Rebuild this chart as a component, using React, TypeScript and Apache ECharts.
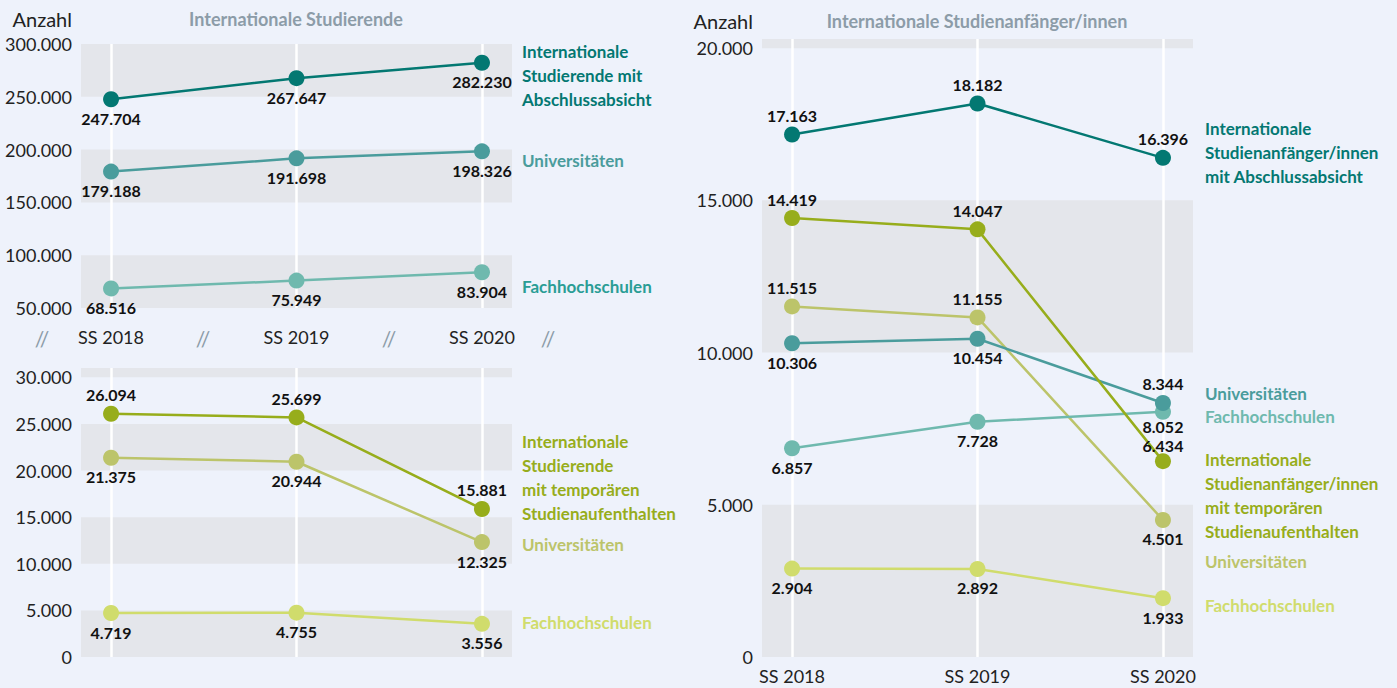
import React, { useEffect, useRef } from "react";
import * as echarts from "echarts";

const categories = ["SS 2018", "SS 2019", "SS 2020"];

// Top-left: Internationale Studierende (mit Abschlussabsicht)
const studAbsTotal = [247704, 267647, 282230];
const studAbsUni = [179188, 191698, 198326];
const studAbsFh = [68516, 75949, 83904];

// Bottom-left: Internationale Studierende mit temporären Studienaufenthalten
const studTempTotal = [26094, 25699, 15881];
const studTempUni = [21375, 20944, 12325];
const studTempFh = [4719, 4755, 3556];

// Right: Internationale Studienanfänger/innen
const newAbsTotal = [17163, 18182, 16396];
const newTempTotal = [14419, 14047, 6434];
const newTempUni = [11515, 11155, 4501];
const newAbsUni = [10306, 10454, 8344];
const newAbsFh = [6857, 7728, 8052];
const newTempFh = [2904, 2892, 1933];

// label positions / distances (style)
const B = "bottom";
const T = "top";

const FONT = "Lato, 'Noto Sans', sans-serif";
const BG = "#eef2fb";
const BAND = "#e4e6eb";
const C_DARK = "#037872";
const C_UNI = "#4a9c9c";
const C_FH = "#6fb9ae";
const C_OLIVE = "#97ad1b";
const C_OLIVE_UNI = "#bcc46a";
const C_OLIVE_FH = "#d0dc6c";

const fmt = (n: number) =>
  String(Math.round(n)).replace(/\B(?=(\d{3})+(?!\d))/g, ".");

function line(
  name: string,
  values: number[],
  positions: string[],
  color: string,
  g: number,
  distances: number[] = [3, 3, 3]
) {
  return {
    type: "line",
    name,
    xAxisIndex: g,
    yAxisIndex: g,
    z: 5,
    silent: true,
    symbol: "circle",
    symbolSize: 16,
    lineStyle: { color, width: 2.5 },
    itemStyle: { color },
    data: values.map((v, i) => ({
      value: [i, v],
      label: { position: positions[i], distance: distances[i] },
    })),
    label: {
      show: true,
      distance: 3,
      fontFamily: FONT,
      fontWeight: "bold",
      fontSize: 16,
      color: "#111",
      formatter: (p: any) => fmt(p.value[1]),
    },
  };
}

function guides(g: number) {
  return {
    type: "line",
    xAxisIndex: g,
    yAxisIndex: g,
    z: 1,
    silent: true,
    data: [],
    markLine: {
      z: 1,
      silent: true,
      symbol: "none",
      label: { show: false },
      lineStyle: { color: "#ffffff", width: 2.5, type: "solid" },
      data: categories.map((_, i) => ({ xAxis: i })),
    },
  };
}

function xAxis(g: number, showLabels: boolean, margin: number) {
  return {
    gridIndex: g,
    type: "value",
    min: -0.162,
    max: 2.162,
    axisLine: { show: false },
    axisTick: { show: false },
    splitLine: { show: false },
    axisLabel: {
      show: showLabels,
      customValues: [0, 1, 2],
      margin,
      fontFamily: FONT,
      fontSize: 18,
      color: "#222",
      formatter: (v: number) => categories[Math.round(v)] ?? "",
    },
  };
}

function yAxis(g: number, min: number, max: number, interval: number) {
  return {
    gridIndex: g,
    type: "value",
    min,
    max,
    interval,
    axisLine: { show: false },
    axisTick: { show: false },
    splitLine: { show: false },
    splitArea: { show: true, areaStyle: { color: [BAND, "rgba(0,0,0,0)"] } },
    axisLabel: {
      margin: 9,
      fontFamily: FONT,
      fontSize: 18,
      color: "#222",
      formatter: (v: number) => (v % interval === 0 ? fmt(v) : ""),
    },
  };
}

function txt(
  x: number,
  y: number,
  text: string,
  color: string,
  opts: any = {}
) {
  return {
    type: "text",
    x,
    y,
    silent: true,
    style: {
      text,
      fill: color,
      fontFamily: FONT,
      fontSize: 17,
      fontWeight: "bold",
      lineHeight: 24,
      textAlign: "left",
      textVerticalAlign: "top",
      ...opts,
    },
  };
}

export default function App() {
  const ref = useRef<HTMLDivElement>(null);
  useEffect(() => {
    document.body.style.margin = "0";
    const chart = echarts.init(ref.current!, null, { renderer: "svg" });
    chart.setOption({
      animation: false,
      backgroundColor: BG,
      grid: [
        { left: 81, top: 44, width: 431, height: 264 },
        { left: 81, top: 368, width: 431, height: 289 },
        { left: 762, top: 39, width: 431, height: 618 },
      ],
      xAxis: [xAxis(0, true, 20), xAxis(1, false, 8), xAxis(2, true, 10)],
      yAxis: [
        yAxis(0, 50000, 300000, 50000),
        yAxis(1, 0, 31000, 5000),
        yAxis(2, 0, 20300, 5000),
      ],
      series: [
        guides(0),
        guides(1),
        guides(2),
        line("Fachhochschulen", studAbsFh, [B, B, B], C_FH, 0),
        line("Universitäten", studAbsUni, [B, B, B], C_UNI, 0),
        line("Internationale Studierende mit Abschlussabsicht", studAbsTotal, [B, B, B], C_DARK, 0),
        line("Fachhochschulen", studTempFh, [B, B, B], C_OLIVE_FH, 1),
        line("Universitäten", studTempUni, [B, B, B], C_OLIVE_UNI, 1),
        line("Internationale Studierende mit temporären Studienaufenthalten", studTempTotal, [T, T, T], C_OLIVE, 1),
        line("Fachhochschulen (temporär)", newTempFh, [B, B, B], C_OLIVE_FH, 2),
        line("Universitäten (temporär)", newTempUni, [T, T, B], C_OLIVE_UNI, 2),
        line("Fachhochschulen (Abschluss)", newAbsFh, [B, B, B], C_FH, 2, [3, 3, -1]),
        line("Universitäten (Abschluss)", newAbsUni, [B, B, T], C_UNI, 2),
        line("Internationale Studienanfänger/innen mit temporären Studienaufenthalten", newTempTotal, [T, T, T], C_OLIVE, 2, [3, 3, 0]),
        line("Internationale Studienanfänger/innen mit Abschlussabsicht", newAbsTotal, [T, T, T], C_DARK, 2),
      ],
      graphic: [
        txt(72, 19, "Anzahl", "#222", { fontWeight: "normal", fontSize: 20, textAlign: "right", textVerticalAlign: "middle" }),
        txt(296, 19, "Internationale Studierende", "#8c9ca8", { fontSize: 18, textAlign: "center", textVerticalAlign: "middle" }),
        txt(753, 21, "Anzahl", "#222", { fontWeight: "normal", fontSize: 20, textAlign: "right", textVerticalAlign: "middle" }),
        txt(977, 21, "Internationale Studienanfänger/innen", "#8c9ca8", { fontSize: 18, textAlign: "center", textVerticalAlign: "middle" }),
        ...[42, 203, 389, 548].map((x) =>
          txt(x, 338, "//", "#8c9ca8", { fontWeight: "normal", fontSize: 21, textAlign: "center", textVerticalAlign: "middle" })
        ),
        txt(522, 39, "Internationale\nStudierende mit\nAbschlussabsicht", C_DARK),
        txt(522, 160, "Universitäten", C_UNI, { textVerticalAlign: "middle" }),
        txt(522, 286, "Fachhochschulen", "#2a9d95", { textVerticalAlign: "middle" }),
        txt(522, 429, "Internationale\nStudierende\nmit temporären\nStudienaufenthalten", C_OLIVE),
        txt(522, 544, "Universitäten", C_OLIVE_UNI, { textVerticalAlign: "middle" }),
        txt(522, 622, "Fachhochschulen", C_OLIVE_FH, { textVerticalAlign: "middle" }),
        txt(1205, 116, "Internationale\nStudienanfänger/innen\nmit Abschlussabsicht", C_DARK),
        txt(1205, 393, "Universitäten", C_UNI, { textVerticalAlign: "middle" }),
        txt(1205, 416, "Fachhochschulen", C_FH, { textVerticalAlign: "middle" }),
        txt(1205, 447, "Internationale\nStudienanfänger/innen\nmit temporären\nStudienaufenthalten", C_OLIVE),
        txt(1205, 561, "Universitäten", C_OLIVE_UNI, { textVerticalAlign: "middle" }),
        txt(1205, 605, "Fachhochschulen", C_OLIVE_FH, { textVerticalAlign: "middle" }),
      ],
    });
    return () => chart.dispose();
  }, []);
  return <div ref={ref} style={{ width: 1397, height: 688 }} />;
}
